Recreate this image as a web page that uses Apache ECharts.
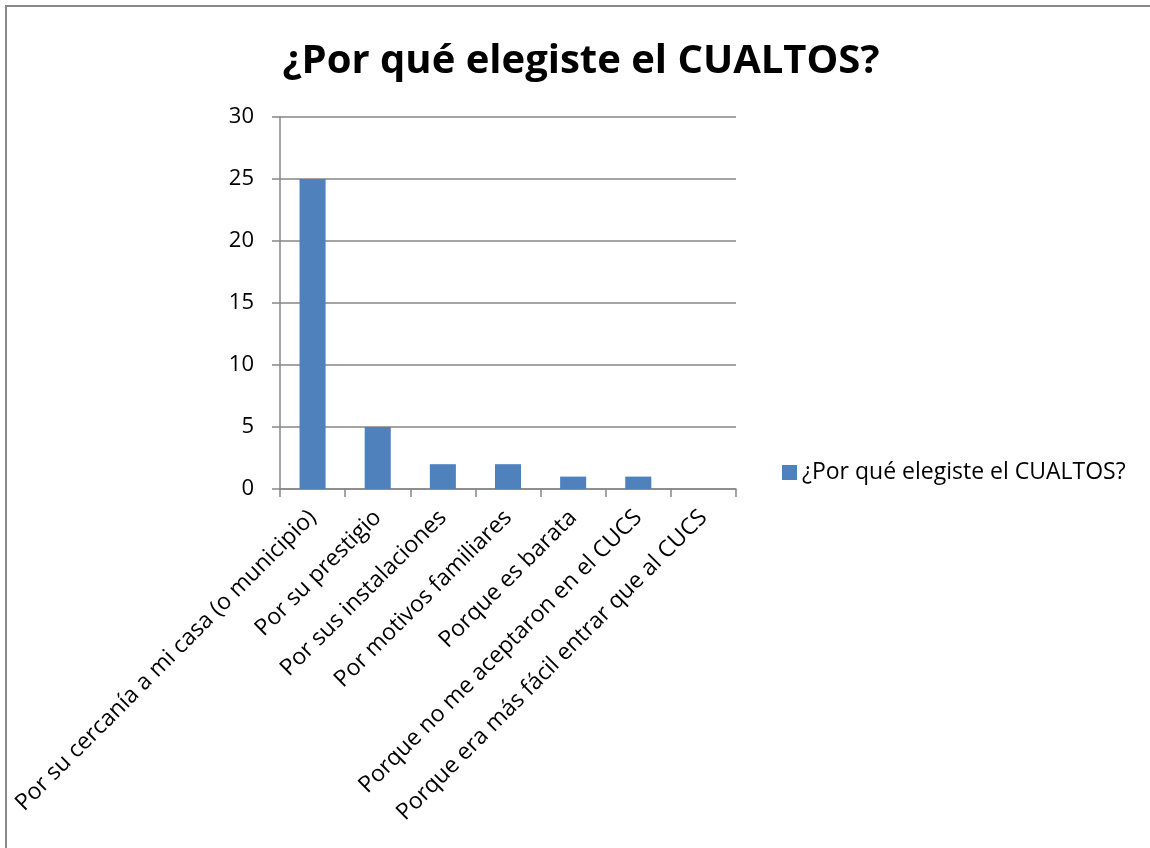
<!DOCTYPE html>
<html>
<head>
<meta charset="utf-8">
<script src="https://cdn.jsdelivr.net/npm/echarts@6/dist/echarts.min.js"></script>
<style>
html,body{margin:0;padding:0;background:#fff;}
#frame{position:absolute;left:5px;top:5px;width:1200px;height:900px;border-left:2px solid #8a8a8a;border-top:2px solid #8a8a8a;box-sizing:border-box;}
#chart{position:absolute;left:0;top:0;width:1150px;height:848px;}
</style>
</head>
<body>
<div id="frame"></div>
<div id="chart"></div>
<script>
const title = "¿Por qué elegiste el CUALTOS?";
const seriesName = "¿Por qué elegiste el CUALTOS?";
const categories = [
  "Por su cercanía a mi casa (o municipio)",
  "Por su prestigio",
  "Por sus instalaciones",
  "Por motivos familiares",
  "Porque es barata",
  "Porque no me aceptaron en el CUCS",
  "Porque era más fácil entrar que al CUCS"
];
const values = [25, 5, 2, 2, 1, 1, 0];
const yTicks = [0, 5, 10, 15, 20, 25, 30];

const font = "'Open Sans', 'Noto Sans', sans-serif";
const chart = echarts.init(document.getElementById('chart'));
chart.setOption({
  animation: false,
  backgroundColor: 'transparent',
  title: {
    text: title,
    left: 576, top: 37, textAlign: 'center',
    textStyle: {fontFamily: font, fontWeight: 'bold', fontSize: 40, color: '#000'}
  },
  legend: {
    data: [seriesName],
    left: 777, top: 456,
    icon: 'rect', itemWidth: 15, itemHeight: 15, itemGap: 6,
    textStyle: {fontFamily: font, fontSize: 23, color: '#000'}
  },
  grid: {left: 280, right: 414, top: 117, bottom: 359, containLabel: false},
  xAxis: {
    type: 'category',
    data: categories,
    axisLine: {lineStyle: {color: '#868686', width: 1.5}},
    axisTick: {show: true, length: 8, alignWithLabel: false, lineStyle: {color: '#868686', width: 1.5}},
    axisLabel: {rotate: 45, interval: 0, margin: 25, fontFamily: font, fontSize: 23, color: '#000'}
  },
  yAxis: {
    type: 'value',
    min: yTicks[0], max: yTicks[yTicks.length - 1], interval: 5,
    axisLine: {show: true, lineStyle: {color: '#868686', width: 1.5}},
    axisTick: {show: true, length: 8, lineStyle: {color: '#868686', width: 1.5}},
    splitLine: {lineStyle: {color: '#868686', width: 1.5}},
    axisLabel: {margin: 26, fontFamily: font, fontSize: 22, color: '#000'}
  },
  series: [{
    name: seriesName,
    type: 'bar',
    data: values,
    barWidth: '40%',
    itemStyle: {color: '#4F81BD'}
  }]
});
</script>
</body>
</html>
